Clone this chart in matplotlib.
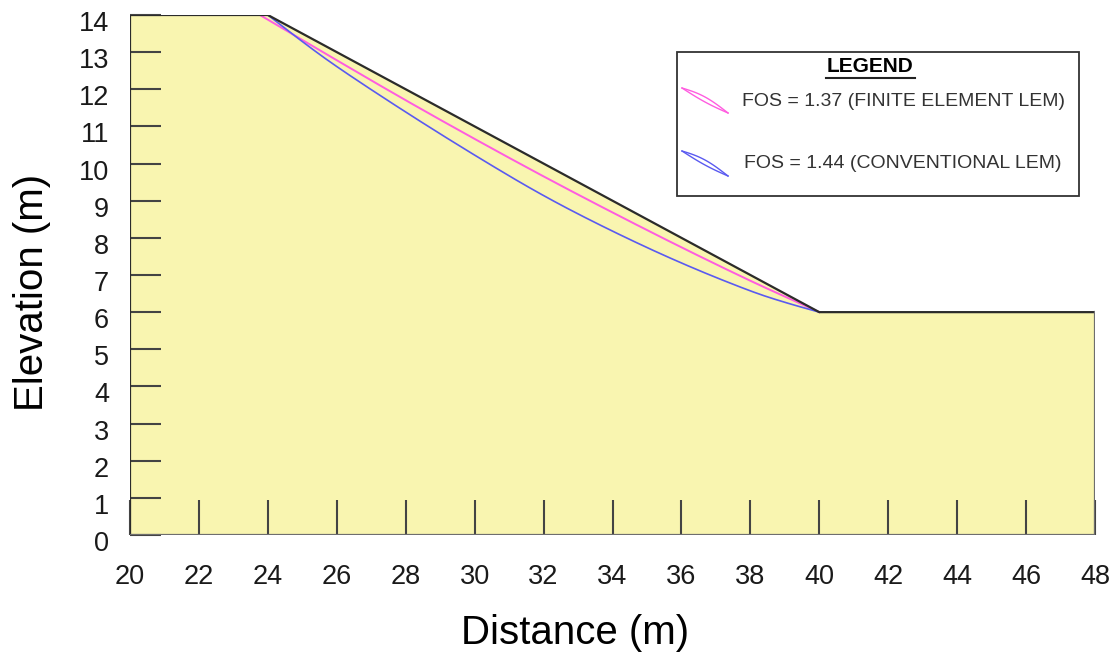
import numpy as np
import matplotlib
matplotlib.use("Agg")
import matplotlib.pyplot as plt
import matplotlib.transforms as mtransforms
from matplotlib.patches import Rectangle

plt.rcParams['font.family'] = ['Liberation Sans', 'DejaVu Sans']

# slope geometry (m)
ground_x = [20, 20, 24, 40, 48, 48]
ground_y = [0, 14, 14, 6, 6, 0]

# critical slip surfaces
fe_x = [23.77, 24.5, 26.0, 28.0, 30.0, 32.0, 34.0, 36.0, 38.0, 39.0, 40.0]
fe_y = [14.0, 13.6, 12.78, 11.7, 10.66, 9.65, 8.68, 7.74, 6.84, 6.42, 6.0]
conv_x = [24.0, 25.0, 26.0, 28.0, 30.0, 32.0, 34.0, 36.0, 38.0, 39.0, 40.0]
conv_y = [14.0, 13.28, 12.6, 11.38, 10.22, 9.12, 8.17, 7.31, 6.56, 6.26, 6.0]

labels = ["FOS = 1.37 (FINITE ELEMENT LEM)", "FOS = 1.44 (CONVENTIONAL LEM)"]
colors = ["#ff5ce0", "#5a5af0"]

x_ticks = list(range(20, 49, 2))
y_ticks = list(range(0, 15))


def smooth(xs, ys, n=4):
    # chaikin corner cutting, keeps the end points
    p = np.column_stack([xs, ys]).astype(float)
    for _ in range(n):
        q = 0.75 * p[:-1] + 0.25 * p[1:]
        r = 0.25 * p[:-1] + 0.75 * p[1:]
        mid = np.empty((2 * len(q), 2))
        mid[0::2] = q
        mid[1::2] = r
        p = np.vstack([p[:1], mid, p[-1:]])
    return p[:, 0], p[:, 1]


W, H = 1119, 663
fig = plt.figure(figsize=(W / 100, H / 100), dpi=100)
ax = fig.add_axes([130 / W, 1 - 535 / H, 965 / W, 520 / H])

ax.fill(ground_x, ground_y, color="#f9f5b0", zorder=1)
# outline: dark on left/top/slope/bench, grey on right/bottom
ax.plot(ground_x[:5], ground_y[:5], color="#2b2b2b", lw=1.6, zorder=4)
ax.plot([48, 48, 20], [6, 0, 0], color="#6e6e6e", lw=1.6, zorder=4)

sx, sy = smooth(fe_x, fe_y)
ax.plot(sx, sy, color=colors[0], lw=1.4, zorder=3)
sx, sy = smooth(conv_x, conv_y)
ax.plot(sx, sy, color=colors[1], lw=1.2, zorder=3)

ax.set_xlim(20, 48)
ax.set_ylim(0, 14)
for s in ax.spines.values():
    s.set_visible(False)
ax.set_xticks(x_ticks)
ax.set_yticks(y_ticks)
ax.tick_params(axis='x', direction='in', length=25, width=1.5, color="#444444",
               labelsize=19.5, pad=21, labelcolor="#1a1a1a")
ax.tick_params(axis='y', direction='in', length=22.5, width=1.5, color="#444444",
               labelsize=19.5, pad=15, labelcolor="#1a1a1a")
for t in ax.get_xticklines() + ax.get_yticklines():
    t.set_zorder(5)
# y labels sit a little below their ticks in the original
shift = mtransforms.ScaledTranslation(0, -6 / 100, fig.dpi_scale_trans)
for lab in ax.get_yticklabels():
    lab.set_transform(lab.get_transform() + shift)

fig.text(575 / W, 1 - 633 / H, "Distance (m)", fontsize=29, ha='center', va='center')
fig.text(32 / W, 1 - 292 / H, "Elevation (m)", fontsize=29, ha='center', va='center',
         rotation=90)

# legend box
fig.patches.append(Rectangle((677 / W, 1 - 196 / H), 402 / W, 144 / H,
                             transform=fig.transFigure, fill=False,
                             edgecolor="#333333", lw=1.3))
fig.text(870 / W, 1 - 66 / H, "LEGEND", fontsize=15, fontweight='bold',
         ha='center', va='center')
fig.add_artist(plt.Line2D([826 / W, 915 / W], [1 - 78 / H, 1 - 78 / H],
                          transform=fig.transFigure, color="#222222", lw=1.5))

t = np.linspace(0, 1, 30)
for i, (lab, c) in enumerate(zip(labels, colors)):
    y0 = 88 + i * 63
    x0 = 682
    # small lens-shaped icon
    px = x0 + 46 * t
    upper = y0 + 25 * t - 3.5 * np.sin(np.pi * t)
    lower = y0 + 25 * t + 1.5 * np.sin(np.pi * t)
    fig.add_artist(plt.Line2D(px / W, 1 - upper / H, transform=fig.transFigure,
                              color=c, lw=1.0))
    fig.add_artist(plt.Line2D(px / W, 1 - lower / H, transform=fig.transFigure,
                              color=c, lw=1.0))
    fig.text((742 + 2 * i) / W, 1 - (102 + i * 61) / H, lab, fontsize=14,
             color="#333333", ha='left', va='center')

fig.savefig("out.png", dpi=100)
